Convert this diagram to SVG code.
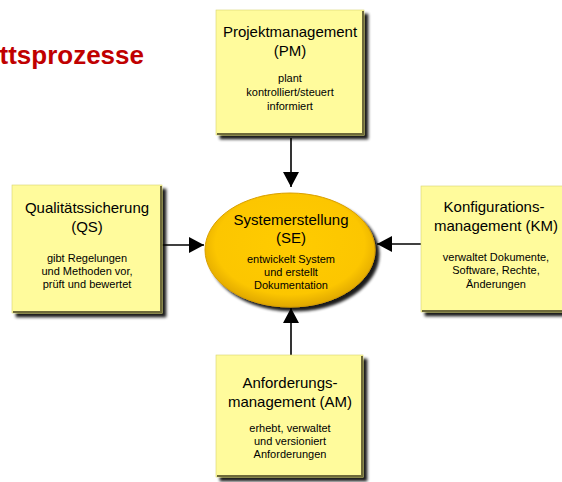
<svg xmlns="http://www.w3.org/2000/svg" width="562" height="482" viewBox="0 0 562 482">
<defs>
<filter id="sh" x="-10%" y="-10%" width="130%" height="130%">
<feGaussianBlur in="SourceAlpha" stdDeviation="1.6"/>
<feOffset dx="4" dy="4" result="b"/>
<feComponentTransfer><feFuncA type="linear" slope="0.9"/></feComponentTransfer>
<feMerge><feMergeNode/><feMergeNode in="SourceGraphic"/></feMerge>
</filter>
<radialGradient id="eg" cx="50%" cy="45%" r="55%">
<stop offset="0" stop-color="#ffcc00"/>
<stop offset="0.8" stop-color="#fcc600"/>
<stop offset="1" stop-color="#e0a800"/>
</radialGradient>
<marker id="ah" markerWidth="15" markerHeight="16" refX="15" refY="8" orient="auto" markerUnits="userSpaceOnUse">
<path d="M0,0 L15,8 L0,16 Z" fill="#000"/>
</marker>
</defs>
<style>
.box{fill:#fffb9c;stroke:#d8d470;stroke-width:0.6}
.edge{fill:none;stroke:#6e6a3a;stroke-width:2}
.t{font-family:"Liberation Sans",Arial,sans-serif;font-size:15px;fill:#000;text-anchor:middle}
.s{font-family:"Liberation Sans",Arial,sans-serif;font-size:11px;fill:#000;text-anchor:middle}
.con{stroke:#000;stroke-width:1.6;fill:none;marker-end:url(#ah)}
</style>
<rect width="562" height="482" fill="#fff"/>
<text x="144" y="64" font-family="Liberation Sans,Arial,sans-serif" font-size="26" font-weight="bold" fill="#c00000" text-anchor="end">ttsprozesse</text>

<g id="connectors">
<line class="con" x1="291" y1="138" x2="291" y2="187"/>
<line class="con" x1="162" y1="245" x2="204" y2="245"/>
<line class="con" x1="421" y1="244" x2="377" y2="244"/>
<line class="con" x1="291" y1="355" x2="291" y2="308"/>
</g>

<g id="PM">
<g filter="url(#sh)"><rect class="box" x="216" y="10" width="148" height="125"/></g>
<path class="edge" d="M363,11 V134 H217"/>
<text class="t" x="290" y="37">Projektmanagement</text>
<text class="t" x="290" y="56">(PM)</text>
<text class="s" x="290" y="82">plant</text>
<text class="s" x="290" y="96">kontrolliert/steuert</text>
<text class="s" x="290" y="110">informiert</text>
</g>

<g id="QS">
<g filter="url(#sh)"><rect class="box" x="12" y="185" width="150" height="128"/></g>
<path class="edge" d="M161,186 V312 H13"/>
<text class="t" x="87" y="213">Qualitätssicherung</text>
<text class="t" x="87" y="232">(QS)</text>
<text class="s" x="87" y="262">gibt Regelungen</text>
<text class="s" x="87" y="275">und Methoden vor,</text>
<text class="s" x="87" y="288">prüft und bewertet</text>
</g>

<g id="KM">
<g filter="url(#sh)"><rect class="box" x="421" y="186" width="150" height="126"/></g>
<path class="edge" d="M570,187 V311 H422"/>
<text class="t" x="494" y="212">Konfigurations-</text>
<text class="t" x="496" y="231">management (KM)</text>
<text class="s" x="496" y="261">verwaltet Dokumente,</text>
<text class="s" x="496" y="274">Software, Rechte,</text>
<text class="s" x="496" y="288">Änderungen</text>
</g>

<g id="AM">
<g filter="url(#sh)"><rect class="box" x="216" y="355" width="147" height="122"/></g>
<path class="edge" d="M362,356 V476 H217"/>
<text class="t" x="290" y="388">Anforderungs-</text>
<text class="t" x="290" y="407">management (AM)</text>
<text class="s" x="290" y="432">erhebt, verwaltet</text>
<text class="s" x="290" y="445">und versioniert</text>
<text class="s" x="290" y="458">Anforderungen</text>
</g>

<g id="SE">
<g filter="url(#sh)"><ellipse cx="290" cy="250" rx="85" ry="57" fill="url(#eg)" stroke="#d9a000" stroke-width="1"/></g>
<text class="t" x="291" y="225">Systemerstellung</text>
<text class="t" x="291" y="243">(SE)</text>
<text class="s" x="291" y="263">entwickelt System</text>
<text class="s" x="291" y="276">und erstellt</text>
<text class="s" x="291" y="289">Dokumentation</text>
</g>
</svg>
